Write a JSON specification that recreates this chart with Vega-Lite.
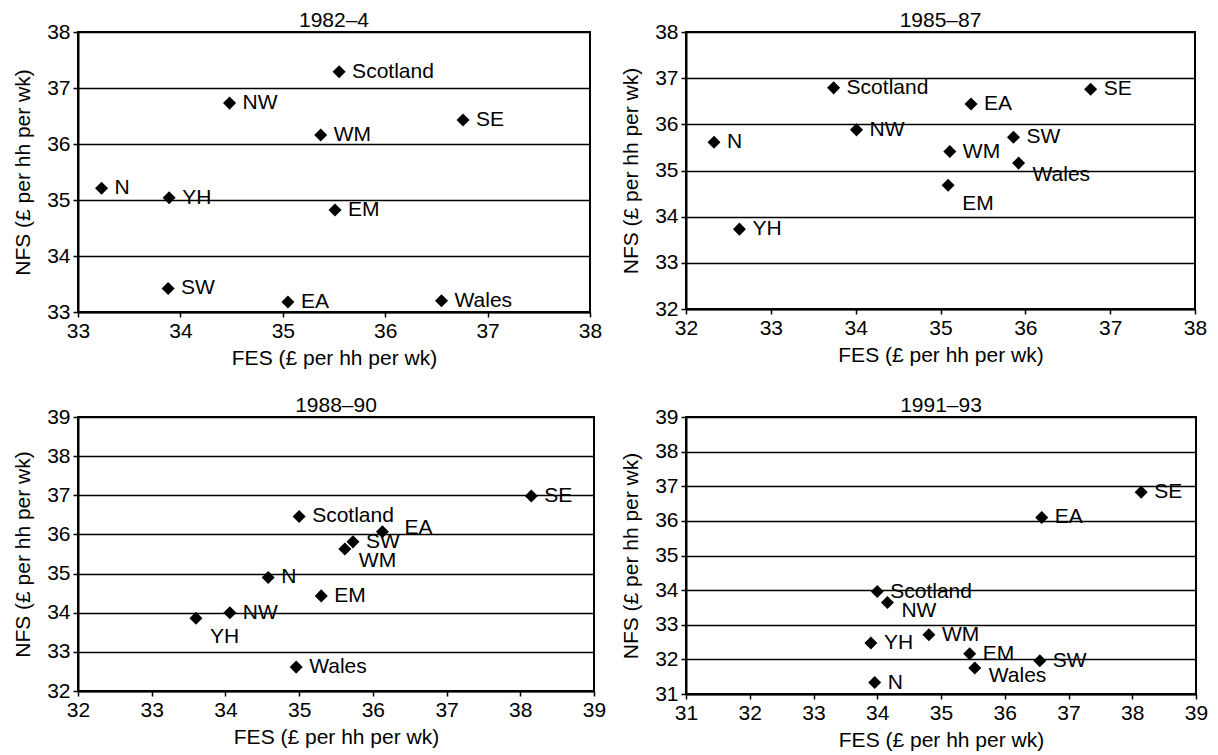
{
  "$schema": "https://vega.github.io/schema/vega-lite/v6.json",
  "padding": {"left": 11, "top": 9, "right": 5, "bottom": 5},
  "data": {"values": [
    {"period": "1982–4", "region": "Scotland", "FES": 35.55, "NFS": 37.29},
    {"period": "1982–4", "region": "NW", "FES": 34.48, "NFS": 36.73},
    {"period": "1982–4", "region": "SE", "FES": 36.76, "NFS": 36.43},
    {"period": "1982–4", "region": "WM", "FES": 35.37, "NFS": 36.16},
    {"period": "1982–4", "region": "N", "FES": 33.23, "NFS": 35.21},
    {"period": "1982–4", "region": "YH", "FES": 33.89, "NFS": 35.04},
    {"period": "1982–4", "region": "EM", "FES": 35.51, "NFS": 34.82},
    {"period": "1982–4", "region": "SW", "FES": 33.88, "NFS": 33.42},
    {"period": "1982–4", "region": "EA", "FES": 35.05, "NFS": 33.18},
    {"period": "1982–4", "region": "Wales", "FES": 36.55, "NFS": 33.2},
    {"period": "1985–87", "region": "Scotland", "FES": 33.74, "NFS": 36.79},
    {"period": "1985–87", "region": "EA", "FES": 35.36, "NFS": 36.44},
    {"period": "1985–87", "region": "SE", "FES": 36.77, "NFS": 36.76},
    {"period": "1985–87", "region": "NW", "FES": 34.01, "NFS": 35.88},
    {"period": "1985–87", "region": "N", "FES": 32.33, "NFS": 35.61},
    {"period": "1985–87", "region": "SW", "FES": 35.86, "NFS": 35.72},
    {"period": "1985–87", "region": "WM", "FES": 35.11, "NFS": 35.41},
    {"period": "1985–87", "region": "Wales", "FES": 35.92, "NFS": 35.16},
    {"period": "1985–87", "region": "EM", "FES": 35.09, "NFS": 34.68},
    {"period": "1985–87", "region": "YH", "FES": 32.63, "NFS": 33.73},
    {"period": "1988–90", "region": "SE", "FES": 38.15, "NFS": 36.98},
    {"period": "1988–90", "region": "Scotland", "FES": 35.0, "NFS": 36.46},
    {"period": "1988–90", "region": "EA", "FES": 36.13, "NFS": 36.07},
    {"period": "1988–90", "region": "SW", "FES": 35.73, "NFS": 35.81},
    {"period": "1988–90", "region": "WM", "FES": 35.62, "NFS": 35.63},
    {"period": "1988–90", "region": "N", "FES": 34.58, "NFS": 34.9},
    {"period": "1988–90", "region": "EM", "FES": 35.3, "NFS": 34.43},
    {"period": "1988–90", "region": "NW", "FES": 34.06, "NFS": 34.0},
    {"period": "1988–90", "region": "YH", "FES": 33.6, "NFS": 33.86},
    {"period": "1988–90", "region": "Wales", "FES": 34.96, "NFS": 32.61},
    {"period": "1991–93", "region": "SE", "FES": 38.14, "NFS": 36.83},
    {"period": "1991–93", "region": "EA", "FES": 36.58, "NFS": 36.1},
    {"period": "1991–93", "region": "Scotland", "FES": 34.0, "NFS": 33.96},
    {"period": "1991–93", "region": "NW", "FES": 34.16, "NFS": 33.64},
    {"period": "1991–93", "region": "WM", "FES": 34.81, "NFS": 32.71},
    {"period": "1991–93", "region": "YH", "FES": 33.9, "NFS": 32.47},
    {"period": "1991–93", "region": "EM", "FES": 35.45, "NFS": 32.16},
    {"period": "1991–93", "region": "SW", "FES": 36.55, "NFS": 31.96},
    {"period": "1991–93", "region": "Wales", "FES": 35.53, "NFS": 31.75},
    {"period": "1991–93", "region": "N", "FES": 33.96, "NFS": 31.33}
  ]},
  "columns": 2,
  "spacing": {"column": 12, "row": 25},
  "resolve": {"scale": {"x": "independent", "y": "independent"}},
  "concat": [
    {
      "title": "1982–4",
      "width": 512, "height": 280,
      "transform": [{"filter": "datum.period === '1982–4'"}],
      "encoding": {
        "x": {"field": "FES", "type": "quantitative", "scale": {"domain": [33, 38], "nice": false, "zero": false}, "axis": {"values": [33, 34, 35, 36, 37, 38], "title": "FES (£ per hh per wk)"}},
        "y": {"field": "NFS", "type": "quantitative", "scale": {"domain": [33, 38], "nice": false, "zero": false}, "axis": {"values": [33, 34, 35, 36, 37, 38], "title": "NFS (£ per hh per wk)"}}
      },
      "layer": [
        {"mark": {"type": "point", "shape": "diamond", "filled": true, "size": 170, "color": "black", "opacity": 1}},
        {"mark": {"type": "text", "align": "left", "baseline": "middle", "dx": 13, "fontSize": 21, "color": "black"}, "encoding": {"text": {"field": "region"}}}
      ]
    },
    {
      "title": "1985–87",
      "width": 509, "height": 277,
      "transform": [{"filter": "datum.period === '1985–87'"}],
      "encoding": {
        "x": {"field": "FES", "type": "quantitative", "scale": {"domain": [32, 38], "nice": false, "zero": false}, "axis": {"values": [32, 33, 34, 35, 36, 37, 38], "title": "FES (£ per hh per wk)"}},
        "y": {"field": "NFS", "type": "quantitative", "scale": {"domain": [32, 38], "nice": false, "zero": false}, "axis": {"values": [32, 33, 34, 35, 36, 37, 38], "title": "NFS (£ per hh per wk)"}}
      },
      "layer": [
        {"mark": {"type": "point", "shape": "diamond", "filled": true, "size": 170, "color": "black", "opacity": 1}},
        {"transform": [{"filter": "datum.region !== 'Wales' && datum.region !== 'EM'"}], "mark": {"type": "text", "align": "left", "baseline": "middle", "dx": 13, "fontSize": 21, "color": "black"}, "encoding": {"text": {"field": "region"}}},
        {"transform": [{"filter": "datum.region === 'Wales'"}], "mark": {"type": "text", "align": "left", "baseline": "middle", "dx": 14, "dy": 12, "fontSize": 21, "color": "black"}, "encoding": {"text": {"field": "region"}}},
        {"transform": [{"filter": "datum.region === 'EM'"}], "mark": {"type": "text", "align": "left", "baseline": "middle", "dx": 14, "dy": 19, "fontSize": 21, "color": "black"}, "encoding": {"text": {"field": "region"}}}
      ]
    },
    {
      "title": "1988–90",
      "width": 516, "height": 274,
      "transform": [{"filter": "datum.period === '1988–90'"}],
      "encoding": {
        "x": {"field": "FES", "type": "quantitative", "scale": {"domain": [32, 39], "nice": false, "zero": false}, "axis": {"values": [32, 33, 34, 35, 36, 37, 38, 39], "title": "FES (£ per hh per wk)"}},
        "y": {"field": "NFS", "type": "quantitative", "scale": {"domain": [32, 39], "nice": false, "zero": false}, "axis": {"values": [32, 33, 34, 35, 36, 37, 38, 39], "title": "NFS (£ per hh per wk)"}}
      },
      "layer": [
        {"mark": {"type": "point", "shape": "diamond", "filled": true, "size": 170, "color": "black", "opacity": 1}},
        {"transform": [{"filter": "datum.region !== 'EA' && datum.region !== 'WM' && datum.region !== 'YH'"}], "mark": {"type": "text", "align": "left", "baseline": "middle", "dx": 13, "fontSize": 21, "color": "black"}, "encoding": {"text": {"field": "region"}}},
        {"transform": [{"filter": "datum.region === 'EA'"}], "mark": {"type": "text", "align": "left", "baseline": "middle", "dx": 22, "dy": -4, "fontSize": 21, "color": "black"}, "encoding": {"text": {"field": "region"}}},
        {"transform": [{"filter": "datum.region === 'WM'"}], "mark": {"type": "text", "align": "left", "baseline": "middle", "dx": 14, "dy": 12, "fontSize": 21, "color": "black"}, "encoding": {"text": {"field": "region"}}},
        {"transform": [{"filter": "datum.region === 'YH'"}], "mark": {"type": "text", "align": "left", "baseline": "middle", "dx": 14, "dy": 19, "fontSize": 21, "color": "black"}, "encoding": {"text": {"field": "region"}}}
      ]
    },
    {
      "title": "1991–93",
      "width": 510, "height": 277,
      "transform": [{"filter": "datum.period === '1991–93'"}],
      "encoding": {
        "x": {"field": "FES", "type": "quantitative", "scale": {"domain": [31, 39], "nice": false, "zero": false}, "axis": {"values": [31, 32, 33, 34, 35, 36, 37, 38, 39], "title": "FES (£ per hh per wk)"}},
        "y": {"field": "NFS", "type": "quantitative", "scale": {"domain": [31, 39], "nice": false, "zero": false}, "axis": {"values": [31, 32, 33, 34, 35, 36, 37, 38, 39], "title": "NFS (£ per hh per wk)"}}
      },
      "layer": [
        {"mark": {"type": "point", "shape": "diamond", "filled": true, "size": 170, "color": "black", "opacity": 1}},
        {"transform": [{"filter": "datum.region !== 'NW' && datum.region !== 'Wales'"}], "mark": {"type": "text", "align": "left", "baseline": "middle", "dx": 13, "fontSize": 21, "color": "black"}, "encoding": {"text": {"field": "region"}}},
        {"transform": [{"filter": "datum.region === 'NW' || datum.region === 'Wales'"}], "mark": {"type": "text", "align": "left", "baseline": "middle", "dx": 14, "dy": 8, "fontSize": 21, "color": "black"}, "encoding": {"text": {"field": "region"}}}
      ]
    }
  ],
  "config": {
    "font": "Liberation Sans",
    "view": {"stroke": "black", "strokeWidth": 2},
    "axis": {
      "labelFontSize": 21, "titleFontSize": 21, "titleFontWeight": "normal",
      "labelColor": "black", "titleColor": "black", "tickColor": "black", "domainColor": "black",
      "domainWidth": 2, "tickWidth": 1.5, "tickSize": 5, "labelPadding": 3, "titlePadding": 6, "labelFlush": false, "labelOverlap": false
    },
    "axisX": {"grid": false},
    "axisY": {"grid": true, "gridColor": "black", "gridWidth": 1.5, "gridOpacity": 1, "titlePadding": 13},
    "title": {"fontSize": 21, "fontWeight": "normal", "color": "black", "offset": -10}
  }
}
